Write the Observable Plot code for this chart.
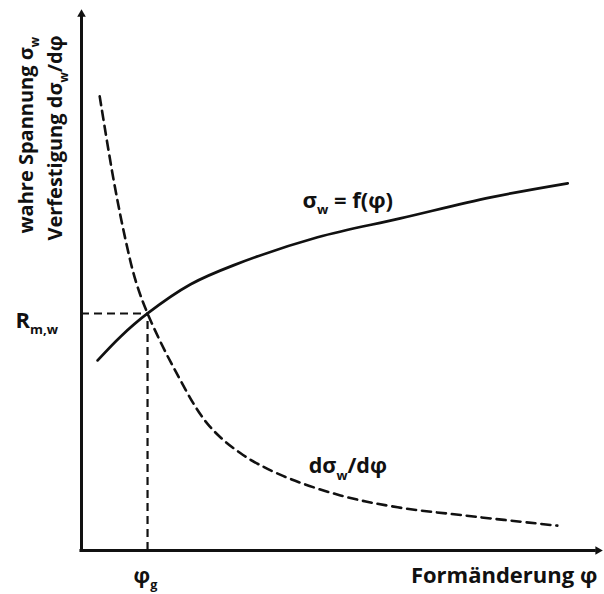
<!DOCTYPE html>
<html>
<head>
<meta charset="utf-8">
<script src="https://cdn.jsdelivr.net/npm/d3@7"></script>
<script src="https://cdn.jsdelivr.net/npm/@observablehq/plot@0.6"></script>
<style>
  body { margin: 0; background: #fff; }
</style>
</head>
<body>
<div id="chart"></div>
<script>
// true stress curve sigma_w = f(phi)
const sigmaPhi = [0.31, 0.75, 1.27, 2.10, 2.92, 4.54, 6.13, 7.87, 9.35];
const sigmaVal = [3.52, 3.96, 4.39, 4.93, 5.28, 5.80, 6.15, 6.54, 6.80];
// hardening curve d sigma_w / d phi
const dPhi = [0.35, 0.62, 0.85, 1.04, 1.27, 1.77, 2.42, 3.06, 3.83, 4.98, 6.08, 7.35, 9.15];
const dVal = [8.41, 6.85, 5.74, 5.00, 4.39, 3.39, 2.35, 1.80, 1.40, 1.02, 0.80, 0.65, 0.46];
// intersection (uniform strain phi_g, tensile strength R_m,w)
const phiG = 1.27;
const RmW = 4.39;
// labels
const yLabel1 = "wahre Spannung σ_{w}";
const yLabel2 = "Verfestigung dσ_{w}/dφ";
const xLabel = "Formänderung φ";
const rLabel = "R_{m,w}";
const gLabel = "φ_{g}";
const curveLabel1 = "σ_{w} = f(φ)";
const curveLabel2 = "dσ_{w}/dφ";

const sigmaData = sigmaPhi.map((x, i) => ({x, y: sigmaVal[i]}));
const dData = dPhi.map((x, i) => ({x, y: dVal[i]}));

const ink = "#111";
const font = "'Open Sans', Lato, sans-serif";
const txt = {fontWeight: "bold", fill: ink};

const plot = Plot.plot({
  width: 604,
  height: 594,
  marginLeft: 81,
  marginRight: 3,
  marginTop: 10,
  marginBottom: 44,
  x: {domain: [0, 10], axis: null},
  y: {domain: [0, 10], axis: null},
  style: {fontFamily: font, background: "#fff", overflow: "visible"},
  marks: [
    // axes
    Plot.ruleX([0], {y1: 0, y2: 9.9, stroke: ink, strokeWidth: 3}),
    Plot.ruleY([0], {x1: -0.03, x2: 9.9, stroke: ink, strokeWidth: 3}),
    Plot.dot([0], {x: 0, y: 9.93, symbol: "triangle", r: 3.2, fill: ink, stroke: "none"}),
    Plot.dot([0], {x: 9.93, y: 0, symbol: "triangle", r: 3.2, rotate: 90, fill: ink, stroke: "none"}),
    // guide lines
    Plot.ruleY([RmW], {x1: 0, x2: phiG, stroke: ink, strokeWidth: 2, strokeDasharray: "8,5"}),
    Plot.ruleX([phiG], {y1: 0, y2: RmW, stroke: ink, strokeWidth: 2.2, strokeDasharray: "8,5"}),
    // curves
    Plot.line(dData, {x: "x", y: "y", curve: "catmull-rom", stroke: ink, strokeWidth: 2.6, strokeDasharray: "9,6"}),
    Plot.line(sigmaData, {x: "x", y: "y", curve: "catmull-rom", stroke: ink, strokeWidth: 2.7}),
    // labels
    Plot.text([yLabel1], {x: -1.06, y: 5.87, text: d => d, rotate: -90, textAnchor: "start", fontSize: 20, ...txt}),
    Plot.text([yLabel2], {x: -0.5, y: 5.74, text: d => d, rotate: -90, textAnchor: "start", fontSize: 20, ...txt}),
    Plot.text([xLabel], {x: 9.92, y: -0.48, text: d => d, textAnchor: "end", fontSize: 22, ...txt}),
    Plot.text([rLabel], {x: -1.27, y: 4.26, text: d => d, textAnchor: "start", fontSize: 22, ...txt}),
    Plot.text([gLabel], {x: 1.0, y: -0.48, text: d => d, textAnchor: "start", fontSize: 21, ...txt}),
    Plot.text([curveLabel1], {x: 4.25, y: 6.48, text: d => d, textAnchor: "start", fontSize: 22, ...txt}),
    Plot.text([curveLabel2], {x: 4.37, y: 1.56, text: d => d, textAnchor: "start", fontSize: 21.5, ...txt})
  ]
});

// turn "_{...}" into real subscripts
const NS = "http://www.w3.org/2000/svg";
plot.querySelectorAll("text").forEach(t => {
  const s = t.textContent;
  if (!s.includes("_{")) return;
  const fs = parseFloat(t.getAttribute("font-size") || t.closest("[font-size]")?.getAttribute("font-size") || 20);
  t.textContent = "";
  const parts = s.split(/(_\{[^}]*\})/).filter(p => p);
  let shifted = false;
  parts.forEach(p => {
    const ts = document.createElementNS(NS, "tspan");
    if (p.startsWith("_{")) {
      ts.textContent = p.slice(2, -1);
      ts.setAttribute("font-size", fs * 0.6);
      ts.setAttribute("dy", fs * 0.3);
      shifted = true;
    } else {
      ts.textContent = p;
      if (shifted) { ts.setAttribute("dy", -fs * 0.3); shifted = false; }
    }
    t.appendChild(ts);
  });
});

document.getElementById("chart").appendChild(plot);
</script>
</body>
</html>
